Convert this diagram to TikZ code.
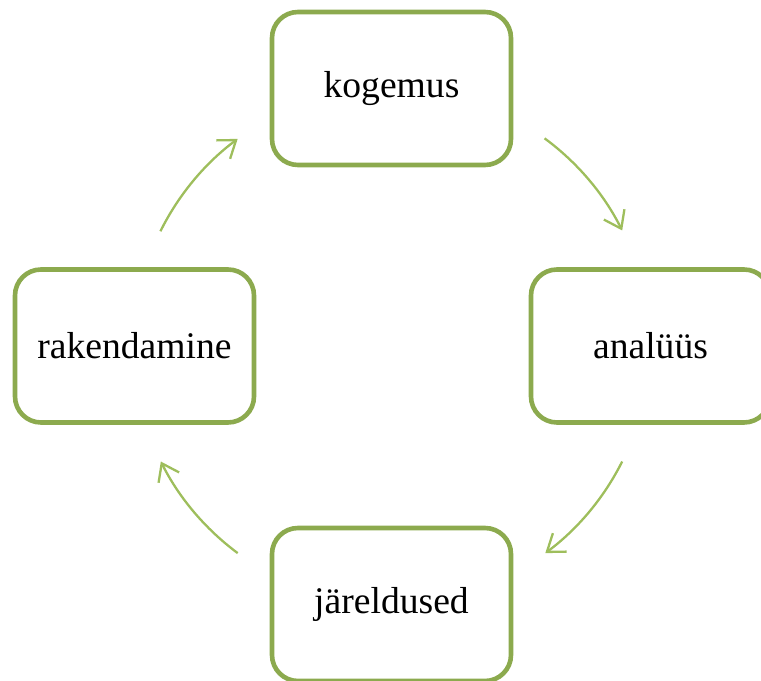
\documentclass[tikz,border=0pt]{standalone}
\usepackage{fontspec}
\setmainfont{Liberation Serif}
\usetikzlibrary{arrows.meta,calc}
\definecolor{boxgreen}{RGB}{140,170,78}
\definecolor{arrowgreen}{RGB}{158,190,92}
\begin{document}
\begin{tikzpicture}[x=1bp,y=1bp,
  stagebox/.style={draw=boxgreen, line width=4.6bp, rounded corners=26bp,
    fill=white, minimum width=239bp, minimum height=153bp, inner sep=0pt,
    font=\fontsize{37.6bp}{45bp}\selectfont},
  cyclearrow/.style={draw=arrowgreen, line width=2.3bp,
    -{Straight Barb[length=16bp,width=23bp,line width=2.3bp]}}]
  \useasboundingbox (0,0) rectangle (761,681);
  \clip (0,0) rectangle (761,681);
  % centre of the cycle
  \coordinate (c) at (391.5,335);
  % the four stages
  \node[stagebox] (kogemus) at (391.5,592.5) {kogemus};
  \node[stagebox] (analyys) at (650.5,335) {analüüs};
  \node[stagebox] (jareldused) at (391.5,76.5) {järeldused};
  \node[stagebox] (rakendamine) at (134.5,335) {rakendamine};
  % arrow start points on the circle
  \coordinate (s1) at ($(c)+(53.6:258)$);
  \coordinate (s2) at ($(c)+(-26.6:258)$);
  \coordinate (s3) at ($(c)+(233.4:258)$);
  \coordinate (s4) at ($(c)+(153.6:258)$);
  % clockwise arcs between the stages
  \draw[cyclearrow] (s1) arc[start angle=53.6, end angle=26.6, radius=258];
  \draw[cyclearrow] (s2) arc[start angle=-26.6, end angle=-53.4, radius=258];
  \draw[cyclearrow] (s3) arc[start angle=233.4, end angle=206.6, radius=258];
  \draw[cyclearrow] (s4) arc[start angle=153.6, end angle=126.6, radius=258];
\end{tikzpicture}
\end{document}
